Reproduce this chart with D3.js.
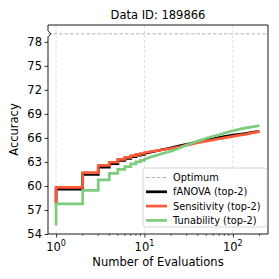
<!DOCTYPE html>
<html>
<head>
<meta charset="utf-8">
<script src="https://cdn.jsdelivr.net/npm/d3@7"></script>
<style>
  body { margin: 0; background: #fff; }
  text { font-family: "DejaVu Sans", sans-serif; fill: #000; }
</style>
</head>
<body>
<svg id="chart" width="279" height="279"></svg>
<script>
// data (evaluations, mean best accuracy)
const evals = [1, 1, 2, 3, 4, 5, 6, 7, 8, 9, 10, 12, 14, 16, 18, 20, 25, 30, 35, 40, 50, 60, 70, 80, 90, 100, 120, 140, 160, 180, 200];
const fanova = [57.8, 59.6, 61.45, 62.35, 62.8, 63.2, 63.45, 63.65, 63.85, 63.95, 64.05, 64.25, 64.4, 64.55, 64.65, 64.75, 65.0, 65.2, 65.35, 65.5, 65.75, 65.9, 66.05, 66.15, 66.25, 66.35, 66.45, 66.55, 66.65, 66.75, 66.8];
const sensitivity = [57.8, 59.83, 61.66, 62.58, 62.96, 63.33, 63.58, 63.78, 63.95, 64.05, 64.15, 64.3, 64.42, 64.52, 64.62, 64.7, 64.9, 65.1, 65.25, 65.4, 65.6, 65.75, 65.9, 66.0, 66.1, 66.2, 66.35, 66.45, 66.6, 66.7, 66.8];
const tunability = [55.1, 57.75, 59.45, 60.75, 61.58, 62.08, 62.42, 62.75, 63.0, 63.2, 63.35, 63.65, 63.85, 64.05, 64.2, 64.35, 64.75, 65.1, 65.4, 65.6, 65.95, 66.2, 66.4, 66.6, 66.75, 66.9, 67.1, 67.25, 67.35, 67.45, 67.55];
const optimum = 79.0;
const yTicks = [54, 57, 60, 63, 66, 69, 72, 75, 78];
const xTicks = [1, 10, 100];
const stepUntil = 10; // beyond this the stairs are too fine to see

const series = [
  { name: "fANOVA (top-2)", values: fanova, color: "#000000" },
  { name: "Sensitivity (top-2)", values: sensitivity, color: "#fc5a36" },
  { name: "Tunability (top-2)", values: tunability, color: "#7dcc7d" }
];

const W = 279, H = 279;
const margin = { top: 25, right: 11, bottom: 45, left: 48 };
const width = W - margin.left - margin.right;
const height = H - margin.top - margin.bottom;

const svg = d3.select("#chart");
const g = svg.append("g").attr("transform", `translate(${margin.left},${margin.top})`);

const x = d3.scaleLog().domain([0.81, 250]).range([0, width]);
const y = d3.scaleLinear().domain([54, 80.1]).range([height, 0]);

// vertical grid
g.selectAll(".vgrid").data(xTicks).enter().append("line")
  .attr("x1", d => x(d)).attr("x2", d => x(d))
  .attr("y1", 0).attr("y2", height)
  .attr("stroke", "#d9d9d9").attr("stroke-width", 0.8)
  .attr("stroke-dasharray", "3,2");

// optimum line
g.append("line")
  .attr("x1", 0).attr("x2", width)
  .attr("y1", y(optimum)).attr("y2", y(optimum))
  .attr("stroke", "#aaaaaa").attr("stroke-width", 0.9)
  .attr("stroke-dasharray", "3.5,2");

const stepLine = d3.line()
  .x(d => x(d[0]))
  .y(d => y(d[1]))
  .curve(d3.curveStepAfter);
const smoothLine = d3.line()
  .x(d => x(d[0]))
  .y(d => y(d[1]));

series.forEach(s => {
  const pts = s.values.map((v, i) => [evals[i], v]);
  const head = pts.filter(p => p[0] <= stepUntil);
  const tail = pts.filter(p => p[0] >= stepUntil);
  const d = stepLine(head) + smoothLine(tail).replace(/^M/, "L");
  g.append("path")
    .attr("fill", "none")
    .attr("stroke", s.color)
    .attr("stroke-width", 2.7)
    .attr("d", d);
});

// axes
const xAxis = d3.axisBottom(x)
  .tickValues(xTicks)
  .tickSize(3.5)
  .tickFormat("");
const xg = g.append("g").attr("transform", `translate(0,${height})`).call(xAxis);
xg.select(".domain").remove();
xg.selectAll("line").attr("stroke", "#000").attr("stroke-width", 0.8);

// minor ticks
const minor = [];
[1, 10, 100].forEach(dec => { for (let k = 2; k <= 9; k++) { if (dec * k <= 250) minor.push(dec * k); } });
g.append("g").selectAll("line").data(minor).enter().append("line")
  .attr("x1", d => x(d)).attr("x2", d => x(d))
  .attr("y1", height).attr("y2", height + 2)
  .attr("stroke", "#000").attr("stroke-width", 0.6);

// x tick labels with superscript
xTicks.forEach((t, i) => {
  const tx = g.append("text")
    .attr("x", x(t)).attr("y", height + 17)
    .attr("text-anchor", "middle")
    .style("font-size", "11.5px");
  tx.append("tspan").text("10");
  tx.append("tspan").attr("dy", -5).style("font-size", "8px").text(String(i));
});

const yAxis = d3.axisLeft(y).tickValues(yTicks).tickSize(3.5).tickPadding(2.5);
const yg = g.append("g").call(yAxis);
yg.select(".domain").remove();
yg.selectAll("line").attr("stroke", "#000").attr("stroke-width", 0.8);
yg.selectAll("text").style("font-size", "11.5px").style("font-family", "DejaVu Sans, sans-serif");

// frame with break marker on the left spine
const by = y(optimum);
g.append("path")
  .attr("d", `M0,${height} V${by + 3} L3,${by} L0,${by - 3} V0 H${width} V${height} Z`)
  .attr("fill", "none").attr("stroke", "#000").attr("stroke-width", 0.9);

// titles
svg.append("text")
  .attr("x", margin.left + width / 2).attr("y", 19)
  .attr("text-anchor", "middle")
  .style("font-size", "11.5px")
  .text("Data ID: 189866");

svg.append("text")
  .attr("x", margin.left + width / 2).attr("y", 266)
  .attr("text-anchor", "middle")
  .style("font-size", "11.5px")
  .text("Number of Evaluations");

svg.append("text")
  .attr("transform", `translate(18,${margin.top + height / 2}) rotate(-90)`)
  .attr("text-anchor", "middle")
  .style("font-size", "11.5px")
  .text("Accuracy");

// legend
const lg = svg.append("g").attr("transform", "translate(143,168)");
lg.append("rect")
  .attr("width", 124).attr("height", 59).attr("rx", 2.5)
  .attr("fill", "#fff").attr("fill-opacity", 0.85)
  .attr("stroke", "#cccccc").attr("stroke-width", 0.8);

const items = [{ name: "Optimum", color: "#aaaaaa", dash: "3.5,2", w: 0.9 }]
  .concat(series.map(s => ({ name: s.name, color: s.color, dash: null, w: 2.7 })));
items.forEach((it, i) => {
  const yy = 9.5 + i * 14.3;
  lg.append("line")
    .attr("x1", 3).attr("x2", 24).attr("y1", yy).attr("y2", yy)
    .attr("stroke", it.color).attr("stroke-width", it.w)
    .attr("stroke-dasharray", it.dash);
  lg.append("text")
    .attr("x", 30).attr("y", yy + 3.6)
    .style("font-size", "9.8px")
    .text(it.name);
});
</script>
</body>
</html>
